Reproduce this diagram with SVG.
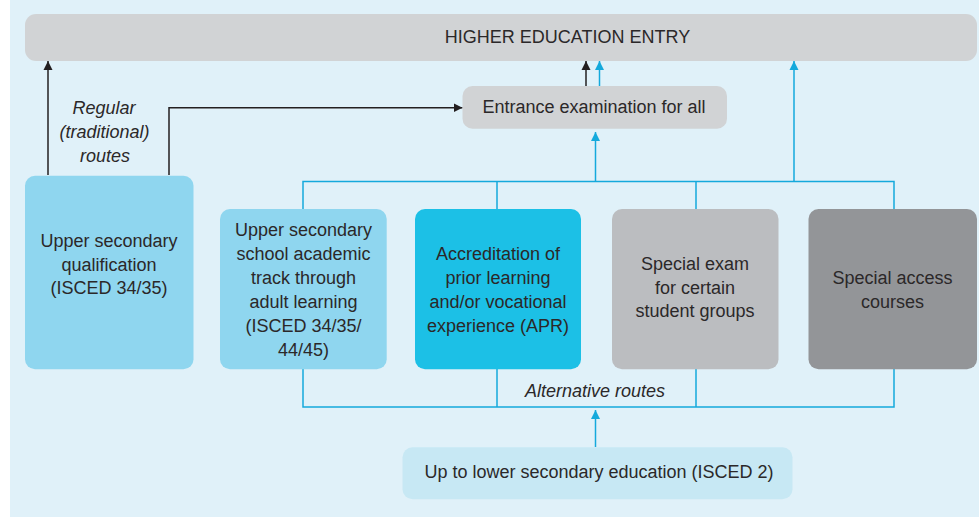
<svg xmlns="http://www.w3.org/2000/svg" width="979" height="519" viewBox="0 0 979 519">
<style>
text{font-family:"Liberation Sans",Arial,sans-serif;fill:#2b2829;text-anchor:middle;font-size:18px}
.it{font-style:italic}
.blk{stroke:#231f20;stroke-width:1.5;fill:none}
.blu{stroke:#14a9dc;stroke-width:1.5;fill:none}
</style>
<defs>
<marker id="ab" viewBox="0 0 10 10" refX="10" refY="5" markerWidth="9" markerHeight="10" markerUnits="userSpaceOnUse" orient="auto"><path d="M0,0 L10,5 L0,10 z" fill="#231f20"/></marker>
<marker id="au" viewBox="0 0 10 10" refX="10" refY="5" markerWidth="9" markerHeight="10" markerUnits="userSpaceOnUse" orient="auto"><path d="M0,0 L10,5 L0,10 z" fill="#14a9dc"/></marker>
</defs>
<rect x="0" y="0" width="979" height="519" fill="#ffffff"/>
<rect x="10" y="0" width="969" height="517" fill="#e0f1f9"/>

<g id="connectors">
<path class="blk" d="M48,175 V61" marker-end="url(#ab)"/>
<path class="blk" d="M169,175 V107.7 H462.5" marker-end="url(#ab)"/>
<path class="blk" d="M586,86 V61" marker-end="url(#ab)"/>
<path class="blu" d="M599.5,86 V61" marker-end="url(#au)"/>
<path class="blu" d="M303,209 V181.5 H894 V209 M497,181.5 V209 M696,181.5 V209"/>
<path class="blu" d="M595.5,181.5 V132" marker-end="url(#au)"/>
<path class="blu" d="M794,181.5 V61" marker-end="url(#au)"/>
<path class="blu" d="M303,369 V407 H894 V369 M497,369 V407 M696,369 V407"/>
<path class="blu" d="M595.5,447 V410" marker-end="url(#au)"/>
<text class="it" x="104" y="114.3">Regular</text>
<text class="it" x="104.5" y="138.3">(traditional)</text>
<text class="it" x="105" y="161.7">routes</text>
<text class="it" x="595" y="396.7" font-size="19.2">Alternative routes</text>
</g>

<g id="higher-ed">
<rect x="25" y="14" width="952" height="47" rx="11" fill="#d1d3d5"/>
<text x="567.5" y="43.3" font-size="17">HIGHER EDUCATION ENTRY</text>
</g>

<g id="entrance-exam">
<rect x="462.5" y="86" width="264.5" height="42.7" rx="10" fill="#d1d3d5"/>
<text x="594" y="113.3" font-size="20">Entrance examination for all</text>
</g>

<g id="upper-secondary">
<rect x="25" y="175.7" width="168.5" height="193.5" rx="10" fill="#8fd6ef"/>
<text x="109" y="247">Upper secondary</text>
<text x="109" y="270.5">qualification</text>
<text x="109" y="294">(ISCED 34/35)</text>
</g>

<g id="adult-track">
<rect x="220" y="209" width="166.7" height="160.2" rx="10" fill="#8fd6ef"/>
<text x="303.5" y="235.5">Upper secondary</text>
<text x="303.5" y="259.5">school academic</text>
<text x="303.5" y="283.5">track through</text>
<text x="303.5" y="307.5">adult learning</text>
<text x="303.5" y="331.5">(ISCED 34/35/</text>
<text x="303.5" y="355.5">44/45)</text>
</g>

<g id="apr">
<rect x="415" y="209" width="166" height="160.2" rx="10" fill="#1cc0e6"/>
<text x="498" y="259.5">Accreditation of</text>
<text x="498" y="283.5">prior learning</text>
<text x="498" y="307.5">and/or vocational</text>
<text x="498" y="331.5">experience (APR)</text>
</g>

<g id="special-exam">
<rect x="612" y="209" width="166.5" height="160.2" rx="10" fill="#bbbdc0"/>
<text x="695" y="270">Special exam</text>
<text x="695" y="293.5">for certain</text>
<text x="695" y="317">student groups</text>
</g>

<g id="special-access">
<rect x="808.5" y="209" width="168.5" height="160.2" rx="10" fill="#939598"/>
<text x="892.5" y="284">Special access</text>
<text x="892.5" y="307.5">courses</text>
</g>

<g id="lower-secondary">
<rect x="402.5" y="447.3" width="390" height="52" rx="10" fill="#c7e8f4"/>
<text x="599" y="478.3" font-size="19.3">Up to lower secondary education (ISCED 2)</text>
</g>
</svg>
